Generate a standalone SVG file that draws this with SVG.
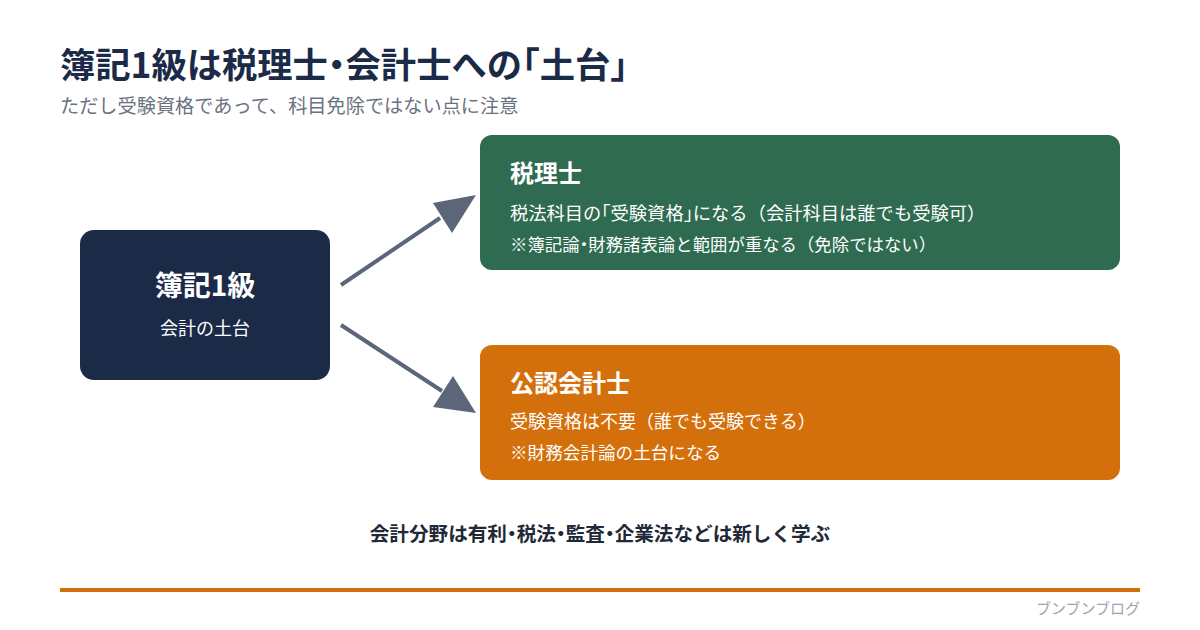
<svg xmlns="http://www.w3.org/2000/svg" width="1200" height="630" viewBox="0 0 1200 630">
<style>
text{font-family:"Noto Sans CJK JP","Noto Sans",sans-serif}
.title{font-size:35.3px;font-weight:700;fill:#1b2a47}
.sub{font-size:19.2px;fill:#6b7280}
.w{fill:#ffffff}
.nt{font-size:24px;font-weight:700}
.l1{font-size:18.3px}
.l2{font-size:17.4px}
.h{font-feature-settings:"halt"}
.conn{stroke:#5b6778;stroke-width:4;fill:none}
.head{fill:#5b6778}
</style>
<rect width="1200" height="630" fill="#ffffff"/>
<text class="title" x="60" y="78">簿記1級は税理士<tspan class="h">・</tspan>会計士への<tspan class="h">「</tspan>土台<tspan class="h">」</tspan></text>
<text class="sub" x="60" y="113">ただし受験資格であって、科目免除ではない点に注意</text>
<g id="connectors">
<line class="conn" x1="341" y1="285" x2="440" y2="218"/>
<polygon class="head" points="476,195 433,203 452,233"/>
<line class="conn" x1="341" y1="325" x2="442" y2="391"/>
<polygon class="head" points="476,413 453,376 433,407"/>
</g>
<g id="boki">
<rect x="80" y="230" width="250" height="150" rx="14" fill="#1b2a47"/>
<text class="w" x="205" y="296" text-anchor="middle" font-size="28" font-weight="700">簿記1級</text>
<text class="w" x="205" y="335" text-anchor="middle" font-size="18">会計の土台</text>
</g>
<g id="zeirishi">
<rect x="480" y="135" width="640" height="135" rx="12" fill="#2e6b50"/>
<text class="w nt" x="510" y="182">税理士</text>
<text class="w l1" x="510" y="220">税法科目の<tspan class="h">「</tspan>受験資格<tspan class="h">」</tspan>になる（会計科目は誰でも受験可）</text>
<text class="w l2" x="510" y="251">※簿記論<tspan class="h">・</tspan>財務諸表論と範囲が重なる（免除ではない）</text>
</g>
<g id="kaikeishi">
<rect x="480" y="345" width="640" height="135" rx="12" fill="#d4700b"/>
<text class="w nt" x="510" y="392">公認会計士</text>
<text class="w" x="510" y="428" font-size="18">受験資格は不要（誰でも受験できる）</text>
<text class="w" x="510" y="459" font-size="17.6">※財務会計論の土台になる</text>
</g>
<text x="600" y="541" text-anchor="middle" font-size="19.6" font-weight="700" fill="#1f2937">会計分野は有利<tspan class="h">・</tspan>税法<tspan class="h">・</tspan>監査<tspan class="h">・</tspan>企業法などは新しく学ぶ</text>
<rect x="60" y="588" width="1080" height="4" fill="#d4700b"/>
<text x="1140" y="614" text-anchor="end" font-size="15" fill="#9aa5b4">ブンブンブログ</text>
</svg>
